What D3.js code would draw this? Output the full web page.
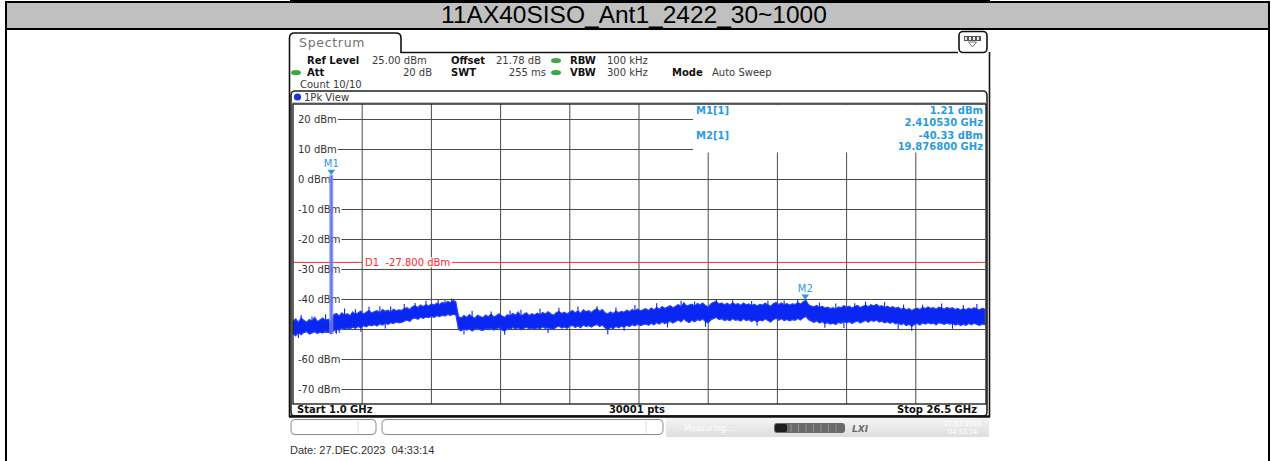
<!DOCTYPE html>
<html>
<head>
<meta charset="utf-8">
<script src="https://cdn.jsdelivr.net/npm/d3@7"></script>
<style>
  html, body { margin: 0; padding: 0; background: #fff; }
  svg { display: block; }
</style>
</head>
<body>
<svg id="chart" width="1271" height="461"></svg>
<script>
// ---- data ----------------------------------------------------------------
const titleText = "11AX40SISO_Ant1_2422_30~1000";
const dateText = "Date: 27.DEC.2023  04:33:14";

const startGHz = 1.0;
const stopGHz = 26.5;
const sweepPoints = 30001;
const refLevelDbm = 25;
const bottomLevelDbm = -75;

const levelTicks = [20, 10, 0, -10, -20, -30, -40, -50, -60, -70];
const freqDivisions = [3.55, 6.1, 8.65, 11.2, 13.75, 16.3, 18.85, 21.4, 23.95];

const markerNames = ["M1", "M2"];
const markerFreqGHz = [2.410530, 19.876800];
const markerLevels = [1.21, -40.33];

const limitName = "D1";
const limitLevel = -27.8;

// peak-hold trace envelope, one sample per 0.1 GHz from 1.0 GHz to 26.5 GHz
const traceStartGHz = 1.0;
const traceStepGHz = 0.1;
const traceHigh = [
  -47.4,-46.6,-47.8,-46.3,-47.1,-47.7,-46.8,-47.3,-46.1,-47.5,
  -46.9,-46.3,-47.2,-46.7,-47.6,-45.2,-44.8,-45.6,-44.6,-45.3,
  -44.9,-45.5,-44.3,-45.1,-44.6,-44.0,-45.0,-44.4,-43.8,-44.7,
  -44.2,-43.9,-44.6,-43.5,-44.1,-43.7,-44.3,-43.4,-43.9,-43.6,
  -43.8,-43.2,-42.9,-43.5,-42.6,-42.2,-42.8,-42.0,-42.5,-41.9,
  -42.3,-41.6,-42.0,-41.4,-41.8,-41.1,-41.5,-40.8,-41.2,-40.5,
  -40.9,-45.8,-46.3,-45.5,-46.1,-45.2,-45.9,-46.4,-45.4,-45.8,
  -46.2,-45.3,-45.9,-45.0,-46.0,-45.5,-44.9,-45.7,-46.1,-45.2,
  -45.6,-44.8,-45.4,-44.3,-45.7,-45.1,-44.6,-45.5,-44.9,-45.3,
  -44.7,-45.2,-44.5,-45.0,-44.2,-44.9,-45.4,-44.6,-44.1,-44.8,
  -44.4,-45.0,-44.3,-43.8,-44.6,-44.0,-44.7,-43.6,-44.2,-43.9,
  -44.5,-43.7,-43.2,-44.1,-43.5,-44.6,-44.9,-44.3,-44.8,-44.0,
  -44.6,-44.1,-44.4,-43.7,-44.2,-43.5,-44.0,-43.3,-43.9,-43.6,
  -43.2,-43.8,-43.0,-43.6,-42.8,-43.4,-42.5,-43.1,-42.7,-42.2,
  -42.9,-42.4,-41.8,-42.6,-41.2,-42.3,-42.0,-41.7,-42.4,-41.5,
  -41.9,-41.3,-42.2,-42.6,-41.6,-41.1,-40.8,-41.7,-41.3,-41.9,
  -41.4,-42.0,-41.2,-41.8,-41.5,-42.1,-41.3,-41.9,-41.6,-42.2,
  -41.7,-42.3,-41.8,-42.0,-41.4,-41.9,-42.4,-41.6,-41.1,-41.8,
  -41.3,-41.9,-41.5,-42.0,-41.6,-41.8,-41.2,-41.7,-40.9,-40.4,
  -41.9,-42.3,-42.6,-42.1,-42.8,-42.4,-43.0,-42.7,-43.2,-42.9,
  -43.3,-42.6,-42.9,-42.2,-42.7,-42.4,-43.0,-42.5,-42.1,-42.8,
  -42.4,-42.0,-42.6,-41.9,-42.3,-41.7,-42.5,-42.2,-42.8,-42.4,
  -42.9,-42.5,-43.1,-42.7,-43.4,-43.0,-43.6,-43.2,-43.8,-43.3,
  -43.0,-43.5,-42.8,-43.2,-42.6,-43.1,-42.9,-43.4,-42.7,-43.0,
  -43.3,-42.8,-43.2,-42.9,-43.5,-43.1,-43.7,-43.2,-43.6,-43.0,
  -43.4,-42.9,-43.3,-43.6,-43.1,-43.4
];
const traceLow = [
  -51.6,-52.3,-51.1,-51.9,-51.2,-50.8,-51.7,-51.3,-50.9,-51.5,
  -51.0,-51.4,-50.7,-51.0,-51.6,-50.6,-50.1,-50.4,-49.8,-50.2,
  -49.7,-50.0,-49.4,-49.8,-49.2,-49.6,-48.9,-49.3,-48.7,-49.0,
  -48.6,-49.0,-48.3,-48.7,-48.1,-48.5,-47.9,-48.2,-47.7,-48.0,
  -47.8,-47.4,-47.0,-47.5,-46.6,-46.3,-46.8,-46.1,-46.5,-46.0,
  -46.2,-45.8,-46.1,-45.6,-45.9,-45.4,-45.7,-45.2,-45.5,-45.1,
  -45.3,-50.2,-50.6,-49.9,-50.4,-50.0,-50.7,-50.1,-49.8,-50.3,
  -50.5,-49.9,-50.2,-49.7,-50.4,-50.0,-49.6,-50.3,-50.6,-49.9,
  -50.1,-49.5,-50.0,-49.6,-50.3,-49.8,-49.4,-50.0,-49.7,-50.2,
  -49.6,-50.0,-49.3,-49.8,-49.5,-49.9,-50.2,-49.4,-49.1,-49.7,
  -49.3,-49.8,-49.1,-48.8,-49.5,-49.0,-49.6,-48.7,-49.2,-48.9,
  -49.4,-48.8,-48.5,-49.2,-48.7,-49.6,-50.3,-49.5,-49.9,-49.2,
  -49.6,-49.1,-49.4,-48.8,-49.2,-48.6,-49.0,-48.4,-48.9,-48.6,
  -48.3,-48.8,-48.1,-48.6,-47.9,-48.4,-47.7,-48.2,-47.8,-47.4,
  -48.0,-47.5,-47.0,-47.7,-46.6,-47.4,-47.9,-47.1,-47.6,-46.9,
  -47.2,-46.7,-47.5,-48.0,-47.0,-46.5,-46.2,-46.9,-46.6,-47.2,
  -46.8,-47.3,-46.5,-47.1,-46.9,-47.4,-46.6,-47.2,-46.9,-47.5,
  -47.0,-47.6,-47.1,-47.3,-46.7,-47.2,-47.7,-46.9,-46.4,-47.1,
  -46.6,-47.2,-46.8,-47.3,-46.9,-47.1,-46.5,-47.0,-46.3,-45.8,
  -46.9,-47.4,-47.8,-47.3,-48.0,-47.6,-48.2,-47.9,-48.4,-48.1,
  -48.5,-47.8,-48.1,-47.5,-48.0,-47.6,-48.2,-47.7,-47.3,-48.0,
  -47.6,-47.2,-47.8,-47.1,-47.5,-47.0,-47.7,-47.4,-48.0,-47.6,
  -48.1,-47.7,-48.3,-47.9,-48.6,-48.2,-48.9,-48.4,-49.1,-48.5,
  -48.2,-48.7,-48.0,-48.4,-47.9,-48.3,-48.1,-48.6,-47.9,-48.2,
  -48.5,-48.0,-48.4,-48.1,-48.7,-48.3,-48.9,-48.4,-48.8,-48.2,
  -48.6,-48.1,-48.5,-48.8,-48.3,-48.6
];

// isolated noise peaks above the envelope
const spikeUpFreqGHz = [1.3, 1.7, 2.2, 2.9, 3.3, 3.8, 4.2, 4.6, 5.1, 5.5, 5.9, 6.35, 6.6, 6.85,
  7.6, 8.3, 9.0, 9.4, 10.1, 10.8, 11.5, 12.2, 12.9, 13.6, 14.4, 15.3, 15.8, 16.6, 17.2, 17.9,
  18.5, 19.1, 19.6, 20.4, 21.0, 21.7, 22.1, 22.8, 23.5, 24.2, 24.9, 25.7, 26.2];
const spikeUpLevels = [-45.3, -45.8, -45.1, -43.2, -43.4, -42.6, -42.4, -42.5, -41.7, -41.3, -40.6, -40.2, -40.4, -39.8,
  -43.9, -44.2, -43.8, -43.6, -43.2, -42.9, -42.5, -42.4, -42.8, -42.0, -41.4, -40.6, -40.8, -40.1, -40.4, -40.7,
  -40.6, -40.5, -40.3, -41.2, -41.5, -41.4, -40.9, -41.0, -41.8, -41.9, -41.5, -42.0, -41.7];
// isolated dips below the envelope
const spikeDownFreqGHz = [1.2, 2.6, 3.5, 4.4, 7.3, 8.8, 10.4, 12.6, 13.2, 14.8, 16.2, 18.1, 20.6, 21.3, 23.3, 23.8, 25.3];
const spikeDownLevels = [-53.0, -51.6, -50.9, -49.8, -51.8, -51.9, -51.3, -51.8, -50.6, -49.5, -49.3, -48.9, -49.6, -49.7, -50.0, -50.6, -49.9];

// ---- layout ----------------------------------------------------------------
const svg = d3.select("#chart");
const FONT = "'DejaVu Sans', Verdana, sans-serif";
const plot = { left: 293, right: 985, top: 104, bottom: 404 };

const x = d3.scaleLinear().domain([startGHz, stopGHz]).range([plot.left, plot.right]);
const y = d3.scaleLinear().domain([bottomLevelDbm, refLevelDbm]).range([plot.bottom, plot.top]);

// instrument readouts use a plain hyphen for negative numbers
const locale = d3.formatLocale({ decimal: ".", thousands: ",", grouping: [3], currency: ["", ""], minus: "-" });

// ---- page frame and title bar ----------------------------------------------
svg.append("rect").attr("x", 0).attr("y", 0).attr("width", 1271).attr("height", 461).attr("fill", "#fff");
svg.append("line").attr("x1", 6).attr("x2", 6).attr("y1", 29).attr("y2", 461)
  .attr("stroke", "#000").attr("stroke-width", 2);
svg.append("line").attr("x1", 1269).attr("x2", 1269).attr("y1", 29).attr("y2", 461)
  .attr("stroke", "#000").attr("stroke-width", 2);
svg.append("rect").attr("x", 6).attr("y", 2).attr("width", 1263).attr("height", 27)
  .attr("fill", "#c0c0c0").attr("stroke", "#000").attr("stroke-width", 2);
svg.append("rect").attr("x", 290).attr("y", 0).attr("width", 700).attr("height", 2).attr("fill", "#000");
svg.append("text").attr("x", 634).attr("y", 23)
  .attr("text-anchor", "middle")
  .attr("font-family", "'Liberation Sans', Arial, sans-serif")
  .attr("font-size", 24.5).attr("fill", "#000")
  .text(titleText);

// ---- instrument screen ------------------------------------------------------
const scr = svg.append("g");

// tab + header rule
scr.append("path")
  .attr("d", "M289.5,417 L289.5,38 Q289.5,33 294.5,33 L396,33 Q401,33 401,38 L401,52.5 L958,52.5")
  .attr("fill", "none").attr("stroke", "#111").attr("stroke-width", 1.6);
scr.append("line").attr("x1", 989.5).attr("x2", 989.5).attr("y1", 52).attr("y2", 417)
  .attr("stroke", "#111").attr("stroke-width", 1.6);
scr.append("text").attr("x", 299).attr("y", 47)
  .attr("font-family", FONT).attr("font-size", 12.5).attr("fill", "#727272")
  .attr("letter-spacing", 0.7).text("Spectrum");

// menu icon at the right of the header
scr.append("rect").attr("x", 959).attr("y", 31.5).attr("width", 28).attr("height", 21).attr("rx", 4)
  .attr("fill", "#fff").attr("stroke", "#111").attr("stroke-width", 1.6);
scr.append("rect").attr("x", 964).attr("y", 36).attr("width", 17).attr("height", 5)
  .attr("fill", "#555");
[966, 970, 974, 978].forEach(cx =>
  scr.append("rect").attr("x", cx - 1).attr("y", 37).attr("width", 2).attr("height", 3).attr("fill", "#eee"));
scr.append("path").attr("d", "M968.5,42 L976.5,42 L972.5,47 Z")
  .attr("fill", "#fff").attr("stroke", "#666").attr("stroke-width", 0.9);

// settings header
const hdr = scr.append("g").attr("font-family", FONT).attr("font-size", 10);
const hdrItems = [
  ["Ref Level", 307, 64, "bold", "start"], ["25.00 dBm", 372, 64, "normal", "start"],
  ["Offset", 451, 64, "bold", "start"], ["21.78 dB", 496, 64, "normal", "start"],
  ["RBW", 570, 64, "bold", "start"], ["100 kHz", 607, 64, "normal", "start"],
  ["Att", 307, 76, "bold", "start"], ["20 dB", 432, 76, "normal", "end"],
  ["SWT", 451, 76, "bold", "start"], ["255 ms", 546, 76, "normal", "end"],
  ["VBW", 570, 76, "bold", "start"], ["300 kHz", 607, 76, "normal", "start"],
  ["Mode", 672, 76, "bold", "start"], ["Auto Sweep", 712, 76, "normal", "start"],
  ["Count 10/10", 300, 87.5, "normal", "start"]
];
hdrItems.forEach(([t, hx, hy, w, a]) => {
  hdr.append("text").attr("x", hx).attr("y", hy).attr("font-weight", w)
    .attr("text-anchor", a).attr("fill", w === "bold" ? "#111" : "#3a3a3a").text(t);
});
[[556, 60.5], [296, 72.5], [556, 72.5]].forEach(([cx, cy]) => {
  hdr.append("ellipse").attr("cx", cx).attr("cy", cy).attr("rx", 5).attr("ry", 2.6).attr("fill", "#3aa845");
});

// window frame "1Pk View"
scr.append("rect").attr("x", 291).attr("y", 91).attr("width", 696).attr("height", 325).attr("rx", 4)
  .attr("fill", "#fff").attr("stroke", "#222").attr("stroke-width", 1.6);
scr.append("line").attr("x1", 291).attr("x2", 987).attr("y1", 103).attr("y2", 103)
  .attr("stroke", "#888").attr("stroke-width", 1);
scr.append("circle").attr("cx", 297.5).attr("cy", 97).attr("r", 3.6).attr("fill", "#1232e6");
scr.append("text").attr("x", 304).attr("y", 101)
  .attr("font-family", FONT).attr("font-size", 10).attr("fill", "#333").text("1Pk View");

// ---- diagram ----------------------------------------------------------------
const diag = svg.append("g");
diag.append("rect").attr("x", plot.left).attr("y", plot.top)
  .attr("width", plot.right - plot.left).attr("height", plot.bottom - plot.top).attr("fill", "#fff");

// vertical divisions
diag.append("g").selectAll("line").data(freqDivisions).join("line")
  .attr("x1", d => x(d)).attr("x2", d => x(d))
  .attr("y1", plot.top).attr("y2", plot.bottom)
  .attr("stroke", "#4a4a4a").attr("stroke-width", 1);

// level axis: labels at the left, grid line continuing from each label
const yAxis = d3.axisRight(y).tickValues(levelTicks).tickSize(0).tickPadding(0)
  .tickFormat(d => locale.format("d")(d) + " dBm");
const axisG = diag.append("g").attr("transform", "translate(298,0)").call(yAxis);
axisG.select(".domain").remove();
axisG.selectAll("text").attr("font-family", FONT).attr("font-size", 10).attr("fill", "#333");
axisG.selectAll(".tick").each(function () {
  const tk = d3.select(this);
  const w = tk.select("text").node().getComputedTextLength();
  tk.insert("line", "text").attr("x1", w + 1).attr("x2", plot.right - 298)
    .attr("y1", 0).attr("y2", 0).attr("stroke", "#4a4a4a").attr("stroke-width", 1);
});

// marker readout panel
const infoLeft = 693, infoBottom = 152;
diag.append("rect").attr("x", infoLeft).attr("y", plot.top + 0.5)
  .attr("width", plot.right - infoLeft).attr("height", infoBottom - plot.top).attr("fill", "#fff");
const MK = "#2a9be0";
const info = diag.append("g").attr("font-family", FONT).attr("font-size", 10)
  .attr("font-weight", "bold").attr("fill", MK);
const fmtLevel = locale.format(".2f");
const fmtFreq = locale.format(".6f");
markerNames.forEach((m, i) => {
  const by = 114 + i * 24.5;
  info.append("text").attr("x", 696).attr("y", by).text(m + "[1]");
  info.append("text").attr("x", 983).attr("y", by).attr("text-anchor", "end")
    .text(fmtLevel(markerLevels[i]) + " dBm");
  info.append("text").attr("x", 983).attr("y", by + 11.5).attr("text-anchor", "end")
    .text(fmtFreq(markerFreqGHz[i]) + " GHz");
});

// display line D1
diag.append("line").attr("x1", plot.left).attr("x2", plot.right)
  .attr("y1", y(limitLevel)).attr("y2", y(limitLevel))
  .attr("stroke", "#ff2a2a").attr("stroke-width", 1);
const d1Text = diag.append("text").attr("x", 365).attr("y", y(limitLevel) + 3.5)
  .attr("font-family", FONT).attr("font-size", 10).attr("fill", "#ff2a2a")
  .attr("xml:space", "preserve")
  .text(limitName + "  " + locale.format(".3f")(limitLevel) + " dBm");
const d1w = d1Text.node().getComputedTextLength();
diag.insert("rect", () => d1Text.node())
  .attr("x", 363).attr("y", y(limitLevel) - 5).attr("width", d1w + 4).attr("height", 10).attr("fill", "#fff");

// ---- trace ------------------------------------------------------------------
const traceColor = "#0a26f2";
const samples = traceHigh.map((h, i) => ({ f: traceStartGHz + i * traceStepGHz, hi: h, lo: traceLow[i] }));
const area = d3.area().x(d => x(d.f)).y0(d => y(d.lo)).y1(d => y(d.hi));
diag.append("path").datum(samples).attr("d", area)
  .attr("fill", traceColor).attr("stroke", "#2a44f4").attr("stroke-width", 1.1)
  .attr("stroke-linejoin", "miter");

const sampleAt = f => samples[Math.round((f - traceStartGHz) / traceStepGHz)];
diag.append("g").selectAll("line").data(spikeUpFreqGHz).join("line")
  .attr("x1", d => x(d)).attr("x2", d => x(d))
  .attr("y1", (d, i) => y(spikeUpLevels[i]))
  .attr("y2", d => y(sampleAt(d).hi) + 2)
  .attr("stroke", traceColor).attr("stroke-width", 1.1);
diag.append("g").selectAll("line").data(spikeDownFreqGHz).join("line")
  .attr("x1", d => x(d)).attr("x2", d => x(d))
  .attr("y1", (d, i) => y(spikeDownLevels[i]))
  .attr("y2", d => y(sampleAt(d).lo) - 2)
  .attr("stroke", traceColor).attr("stroke-width", 1.1);

// carrier at M1
const cx1 = x(markerFreqGHz[0]);
const carrierFloor = sampleAt(markerFreqGHz[0]).lo;
diag.append("line").attr("x1", cx1).attr("x2", cx1)
  .attr("y1", y(markerLevels[0])).attr("y2", y(carrierFloor))
  .attr("stroke", "#7a8af4").attr("stroke-width", 4).attr("opacity", 0.85);
diag.append("line").attr("x1", cx1).attr("x2", cx1)
  .attr("y1", y(markerLevels[0])).attr("y2", y(carrierFloor))
  .attr("stroke", "#2a3ff0").attr("stroke-width", 1).attr("opacity", 0.55);

// marker symbols
const mk = diag.append("g");
markerNames.forEach((m, i) => {
  const mx = x(markerFreqGHz[i]), my = y(markerLevels[i]);
  mk.append("path").attr("d", `M${mx - 3.8},${my - 5.5} L${mx + 3.8},${my - 5.5} L${mx},${my} Z`)
    .attr("fill", MK);
  mk.append("text").attr("x", mx).attr("y", my - 8).attr("text-anchor", "middle")
    .attr("font-family", FONT).attr("font-size", 10).attr("fill", MK).text(m);
});

// diagram border
diag.append("rect").attr("x", plot.left).attr("y", plot.top)
  .attr("width", plot.right - plot.left + 1).attr("height", plot.bottom - plot.top)
  .attr("fill", "none").attr("stroke", "#222").attr("stroke-width", 1.4);

// footer with sweep span
const foot = svg.append("g").attr("font-family", FONT).attr("font-size", 10)
  .attr("font-weight", "bold").attr("fill", "#111");
foot.append("text").attr("x", 297).attr("y", 413).text("Start " + d3.format(".1f")(startGHz) + " GHz");
foot.append("text").attr("x", 637).attr("y", 413).attr("text-anchor", "middle").text(sweepPoints + " pts");
foot.append("text").attr("x", 977).attr("y", 413).attr("text-anchor", "end").text("Stop " + d3.format(".1f")(stopGHz) + " GHz");
svg.append("line").attr("x1", 289).attr("x2", 990).attr("y1", 416.5).attr("y2", 416.5)
  .attr("stroke", "#111").attr("stroke-width", 2.6);

// ---- status bar -------------------------------------------------------------
const sb = svg.append("g");
sb.append("rect").attr("x", 291).attr("y", 419.5).attr("width", 85).attr("height", 15).attr("rx", 4)
  .attr("fill", "#fff").attr("stroke", "#8a8a8a").attr("stroke-width", 1);
sb.append("line").attr("x1", 358).attr("x2", 358).attr("y1", 421).attr("y2", 433).attr("stroke", "#ddd");
sb.append("rect").attr("x", 382).attr("y", 419.5).attr("width", 281).attr("height", 15).attr("rx", 4)
  .attr("fill", "#fff").attr("stroke", "#8a8a8a").attr("stroke-width", 1);
sb.append("line").attr("x1", 646).attr("x2", 646).attr("y1", 421).attr("y2", 433).attr("stroke", "#ddd");
const grad = svg.append("defs").append("linearGradient").attr("id", "sbg")
  .attr("x1", 0).attr("x2", 0).attr("y1", 0).attr("y2", 1);
grad.append("stop").attr("offset", 0).attr("stop-color", "#f4f4f4");
grad.append("stop").attr("offset", 1).attr("stop-color", "#dedede");
sb.append("rect").attr("x", 666).attr("y", 418).attr("width", 323).attr("height", 19).attr("fill", "url(#sbg)");
sb.append("text").attr("x", 684).attr("y", 431).attr("font-family", FONT).attr("font-size", 8)
  .attr("fill", "#fff").text("Measuring...");
sb.append("rect").attr("x", 774).attr("y", 423).attr("width", 71).attr("height", 10).attr("rx", 3)
  .attr("fill", "#6a6a6a");
sb.append("rect").attr("x", 775).attr("y", 424).attr("width", 12).attr("height", 8).attr("rx", 2).attr("fill", "#1e1e1e");
d3.range(7).forEach(k => sb.append("line").attr("x1", 791 + k * 7.5).attr("x2", 791 + k * 7.5)
  .attr("y1", 424).attr("y2", 432).attr("stroke", "#9a9a9a").attr("stroke-width", 0.8));
sb.append("text").attr("x", 852).attr("y", 432).attr("font-family", FONT).attr("font-size", 9)
  .attr("font-style", "italic").attr("font-weight", "bold").attr("fill", "#6a6a6a").text("LXI");
sb.append("text").attr("x", 944).attr("y", 426).attr("font-family", FONT).attr("font-size", 6.5)
  .attr("fill", "#fff").text("27.12.2023");
sb.append("text").attr("x", 948).attr("y", 434).attr("font-family", FONT).attr("font-size", 6.5)
  .attr("fill", "#fff").text("04:33:14");

// capture date
svg.append("text").attr("x", 290).attr("y", 454)
  .attr("font-family", "'Liberation Sans', Arial, sans-serif").attr("font-size", 11)
  .attr("fill", "#333").attr("xml:space", "preserve").text(dateText);
</script>
</body>
</html>
